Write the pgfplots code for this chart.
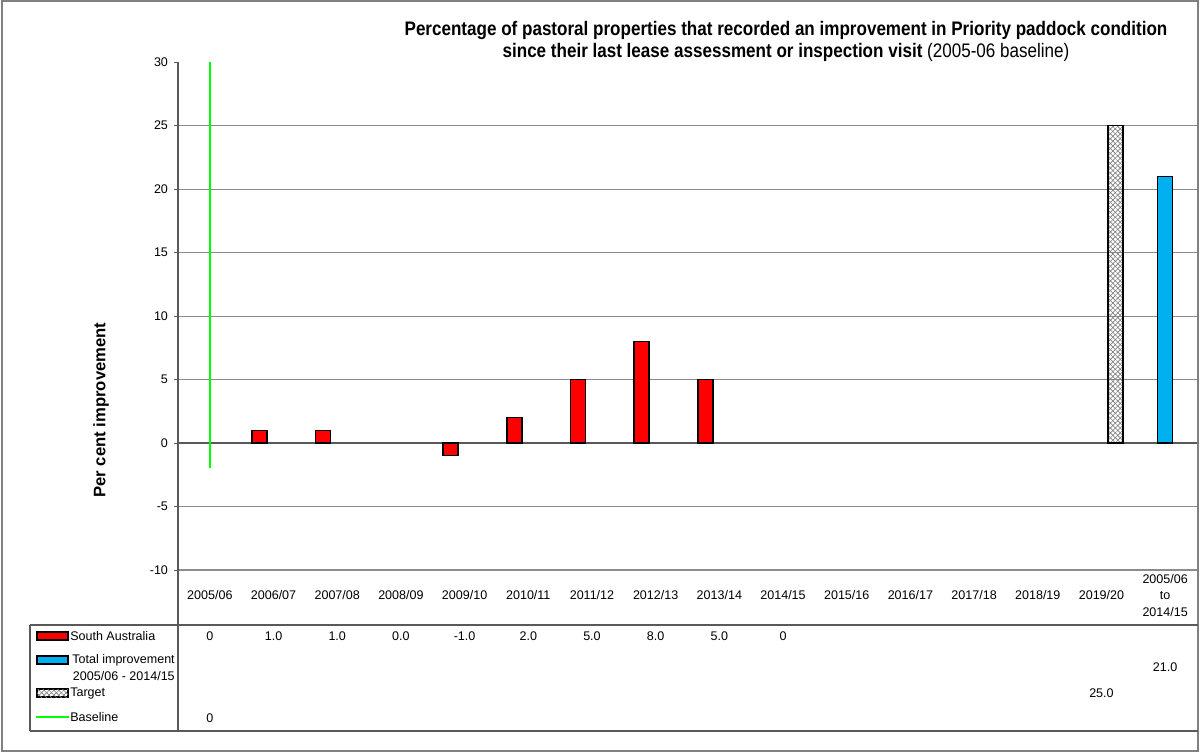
\documentclass[border=0pt]{standalone}
\usepackage{fontspec}
\setmainfont{Liberation Sans}
\newfontfamily\narrowfont[FakeStretch=0.87]{Liberation Sans}
\usepackage{pgfplots}
\pgfplotsset{compat=1.18}
\usetikzlibrary{patterns.meta}
\definecolor{saRed}{HTML}{FF0000}
\definecolor{totBlue}{HTML}{00B0F0}
\definecolor{baseGreen}{HTML}{00FF00}
\definecolor{gridGray}{HTML}{8C8C8C}
\definecolor{axGray}{HTML}{595959}
\newcommand{\tf}{\fontsize{9.4}{12.5}\selectfont}
\begin{document}
\begin{tikzpicture}
\useasboundingbox (0,0) rectangle (900pt,-565.5pt);
\begin{axis}[
  at={(133.5pt,-427.5pt)}, anchor=south west,
  width=764.25pt, height=381pt, scale only axis,
  xmin=-0.5, xmax=15.5, ymin=-10, ymax=30,
  axis x line*=bottom, axis y line*=left,
  x axis line style={gridGray, line width=0.8pt},
  y axis line style={axGray, line width=0.8pt},
  xtick={0,...,15},
  xticklabels={2005/06,2006/07,2007/08,2008/09,2009/10,2010/11,2011/12,2012/13,2013/14,2014/15,2015/16,2016/17,2017/18,2018/19,2019/20,{2005/06\\to\\2014/15}},
  xtick style={draw=none},
  xticklabel style={font=\tf, align=center, anchor=center, yshift=-16pt},
  ytick={-10,-5,...,25},
  extra y ticks={30}, extra y tick style={grid=none},
  ymajorgrids, grid style={gridGray, line width=0.7pt},
  tick align=outside, major tick length=3pt,
  ytick style={axGray, line width=0.6pt},
  yticklabel style={font=\tf, xshift=-1pt},
  /pgf/number format/assume math mode=true,
  clip=false,
]
\draw[axGray, line width=0.9pt] (axis cs:-0.5,0) -- (axis cs:15.5,0);
\addplot[baseGreen, line width=1.8pt] coordinates {(0,-2) (0,30)};
\addplot[ybar, bar width=11.25pt, bar shift=-10.5pt, fill=saRed, draw=black, line width=1.1pt]
  coordinates {(1,1) (2,1) (4,-1) (5,2) (6,5) (7,8) (8,5)};
\addplot[ybar, bar width=11.25pt, bar shift=0pt, fill=totBlue, draw=black, line width=1.1pt]
  coordinates {(15,21)};
\addplot[ybar, bar width=11.25pt, bar shift=10.5pt, draw=black, line width=1.1pt,
  pattern={Lines[angle=45,distance=2.6pt,line width=0.5pt]}, pattern color=gray,
  postaction={pattern={Lines[angle=-45,distance=2.6pt,line width=0.5pt]}, pattern color=gray}]
  coordinates {(14,25)};
% data table values
\node[font=\tf] at (axis cs:0,-15.2) {0};
\node[font=\tf] at (axis cs:1,-15.2) {1.0};
\node[font=\tf] at (axis cs:2,-15.2) {1.0};
\node[font=\tf] at (axis cs:3,-15.2) {0.0};
\node[font=\tf] at (axis cs:4,-15.2) {-1.0};
\node[font=\tf] at (axis cs:5,-15.2) {2.0};
\node[font=\tf] at (axis cs:6,-15.2) {5.0};
\node[font=\tf] at (axis cs:7,-15.2) {8.0};
\node[font=\tf] at (axis cs:8,-15.2) {5.0};
\node[font=\tf] at (axis cs:9,-15.2) {0};
\node[font=\tf] at (axis cs:15,-17.64) {21.0};
\node[font=\tf] at (axis cs:14,-19.69) {25.0};
\node[font=\tf] at (axis cs:0,-21.65) {0};
\end{axis}
\begin{scope}[x=0.75pt,y=-0.75pt]
\draw[gray, line width=0.9pt] (2,1) rectangle (1198,751);
% title
\node[font=\narrowfont\bfseries\fontsize{14.7}{17}\selectfont] at (786,30) {Percentage of pastoral properties that recorded an improvement in Priority paddock condition};
\node[font=\narrowfont\bfseries\fontsize{14.7}{17}\selectfont] at (786,52) {since their last lease assessment or inspection visit \mdseries(2005-06 baseline)};
% y label
\node[rotate=90, font=\bfseries\fontsize{12.5}{14}\selectfont] at (101,410) {Per cent improvement};
% table lines
\draw[axGray, line width=0.8pt] (30,625) -- (1198,625);
\draw[axGray, line width=0.8pt] (30,731) -- (1198,731);
\draw[axGray, line width=0.8pt] (30,625) -- (30,731);
\draw[axGray, line width=0.8pt] (178,570) -- (178,731);
% legend keys
\draw[fill=saRed, draw=black, line width=1.1pt] (37,632) rectangle (68,640);
\draw[fill=totBlue, draw=black, line width=1.1pt] (37,656) rectangle (68,664);
\draw[draw=black, line width=1.1pt, pattern={Lines[angle=45,distance=2.6pt,line width=0.5pt]}, pattern color=gray,
  postaction={pattern={Lines[angle=-45,distance=2.6pt,line width=0.5pt]}, pattern color=gray}] (37,689) rectangle (68,697);
\draw[baseGreen, line width=1.8pt] (36,717) -- (69,717);
\node[font=\tf, anchor=west, inner sep=0pt] at (70,636) {South Australia};
\node[font=\tf, anchor=east, inner sep=0pt] at (175,660) {Total improvement};
\node[font=\tf, anchor=east, inner sep=0pt] at (175,676) {2005/06 - 2014/15};
\node[font=\tf, anchor=west, inner sep=0pt] at (70,693) {Target};
\node[font=\tf, anchor=west, inner sep=0pt] at (70,717) {Baseline};
\end{scope}
\end{tikzpicture}
\end{document}
